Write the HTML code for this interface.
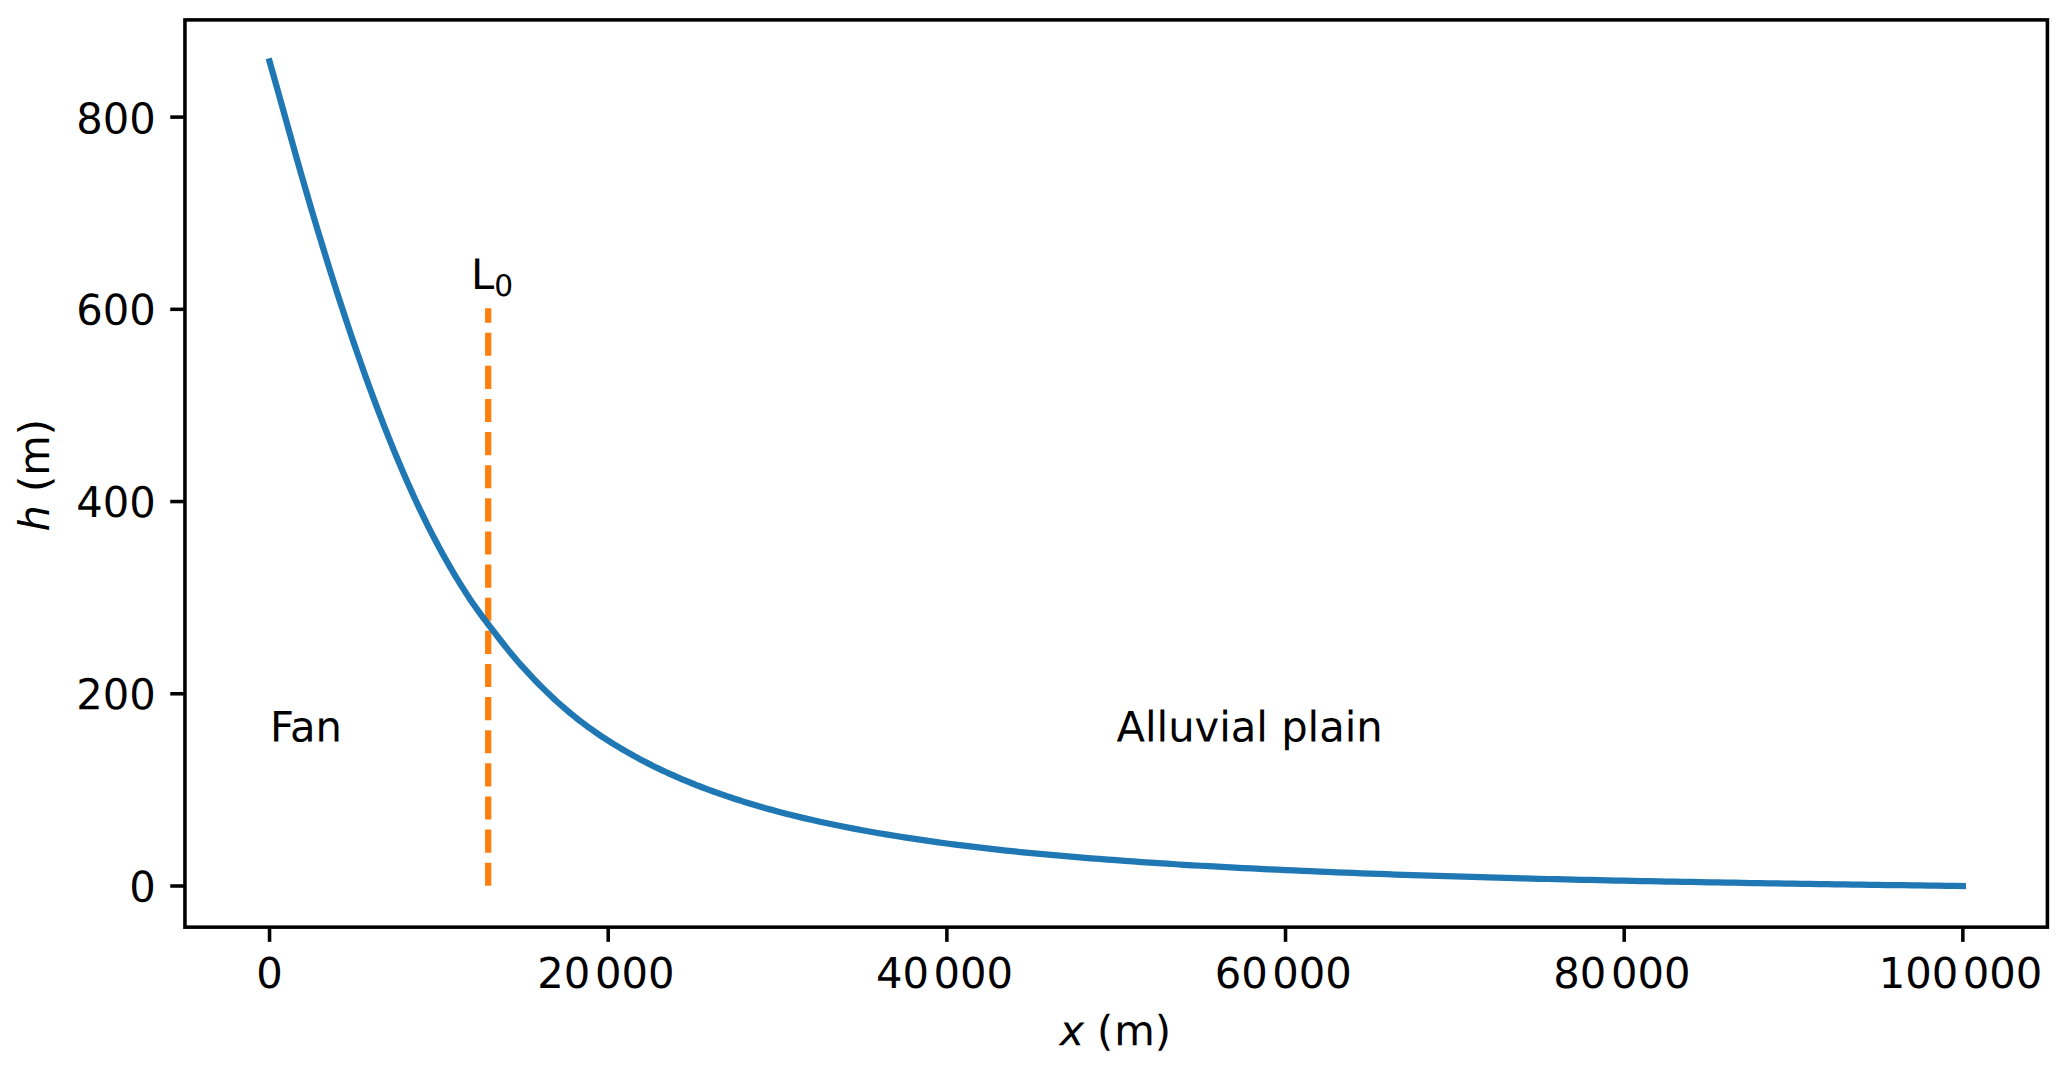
<!DOCTYPE html>
<html lang="en">
<head>
<meta charset="utf-8">
<title>Fan and alluvial plain profile</title>
<style>
html,body{margin:0;padding:0;background:#fff;}
body{width:2067px;height:1069px;overflow:hidden;}
svg{display:block;}
text{font-family:"DejaVu Sans","Liberation Sans",sans-serif;font-size:41.667px;fill:#000;}
.it{font-style:italic;}
.sub{font-size:29.6px;}
</style>
</head>
<body>
<svg width="2067" height="1069" viewBox="0 0 2067 1069">
<rect x="0" y="0" width="2067" height="1069" fill="#ffffff"/>
<line x1="488.2" y1="885.8" x2="488.2" y2="308.3" stroke="#ff7f0e" stroke-width="6.25" stroke-dasharray="23.125 10" fill="none"/>
<path d="M269.55 61.40 L272.09 70.36 L274.63 79.36 L277.17 88.43 L279.71 97.49 L282.25 106.54 L284.79 115.65 L287.33 124.80 L289.87 133.92 L292.41 142.98 L294.95 152.05 L297.49 161.09 L300.03 170.05 L302.57 178.90 L305.11 187.68 L307.65 196.39 L310.19 205.03 L312.73 213.60 L315.27 222.11 L317.81 230.55 L320.35 238.93 L322.89 247.25 L325.43 255.51 L327.97 263.71 L330.51 271.83 L333.05 279.89 L335.59 287.87 L338.13 295.77 L340.67 303.59 L343.21 311.34 L345.75 319.02 L348.29 326.63 L350.83 334.17 L353.37 341.63 L355.91 349.02 L358.45 356.34 L360.99 363.58 L363.53 370.75 L366.07 377.84 L368.61 384.85 L371.15 391.79 L373.69 398.64 L376.23 405.42 L378.77 412.11 L381.31 418.73 L383.85 425.26 L386.39 431.72 L388.93 438.09 L391.47 444.38 L394.01 450.60 L396.55 456.73 L399.09 462.78 L401.63 468.76 L404.17 474.65 L406.71 480.47 L409.25 486.20 L411.79 491.86 L414.33 497.44 L416.87 502.94 L419.41 508.36 L421.95 513.70 L424.49 518.94 L427.03 524.09 L429.57 529.15 L432.11 534.12 L434.65 539.01 L437.19 543.82 L439.73 548.54 L442.27 553.19 L444.81 557.76 L447.35 562.26 L449.89 566.68 L452.43 571.03 L454.97 575.30 L457.51 579.50 L460.05 583.63 L462.59 587.70 L465.13 591.69 L467.67 595.60 L470.21 599.43 L472.75 603.17 L475.29 606.83 L477.83 610.39 L480.37 613.87 L482.91 617.28 L485.45 620.65 L487.99 623.98 L490.53 627.30 L493.07 630.62 L495.61 633.94 L498.15 637.25 L500.69 640.53 L503.23 643.78 L505.77 646.98 L508.31 650.13 L510.85 653.22 L513.39 656.26 L515.93 659.25 L518.47 662.18 L521.01 665.06 L523.55 667.90 L526.08 670.70 L528.62 673.45 L531.16 676.16 L533.70 678.84 L536.24 681.48 L538.78 684.07 L541.32 686.63 L543.86 689.15 L546.40 691.63 L548.94 694.08 L551.48 696.48 L554.02 698.85 L556.56 701.18 L559.10 703.47 L561.64 705.73 L564.18 707.94 L566.72 710.12 L569.26 712.26 L571.80 714.36 L574.34 716.42 L576.88 718.45 L579.42 720.43 L581.96 722.38 L584.50 724.29 L587.04 726.17 L589.58 728.02 L592.12 729.83 L594.66 731.62 L597.20 733.37 L599.74 735.09 L602.28 736.79 L604.82 738.46 L607.36 740.10 L609.90 741.72 L612.44 743.31 L614.98 744.88 L617.52 746.42 L620.06 747.94 L622.60 749.44 L625.14 750.92 L627.68 752.38 L630.22 753.82 L632.76 755.23 L635.30 756.63 L637.84 758.02 L640.38 759.38 L642.92 760.73 L645.46 762.06 L648.00 763.37 L650.54 764.66 L653.08 765.93 L655.62 767.18 L658.16 768.42 L660.70 769.63 L663.24 770.84 L665.78 772.02 L668.32 773.19 L670.86 774.34 L673.40 775.47 L675.94 776.59 L678.48 777.70 L681.02 778.79 L683.56 779.86 L686.10 780.92 L688.64 781.97 L691.18 783.00 L693.72 784.02 L696.26 785.03 L698.80 786.02 L701.34 787.00 L703.88 787.97 L706.42 788.92 L708.96 789.86 L711.50 790.79 L714.04 791.71 L716.58 792.62 L719.12 793.51 L721.66 794.40 L724.20 795.27 L726.74 796.13 L729.28 796.99 L731.82 797.83 L734.36 798.67 L736.90 799.49 L739.44 800.30 L741.98 801.11 L744.52 801.91 L747.06 802.69 L749.60 803.47 L752.14 804.24 L754.68 805.00 L757.22 805.75 L759.76 806.49 L762.30 807.23 L764.84 807.95 L767.38 808.67 L769.92 809.37 L772.46 810.07 L775.00 810.77 L777.54 811.45 L786.01 813.67 L794.47 815.80 L802.94 817.84 L811.41 819.81 L819.87 821.71 L828.34 823.54 L836.81 825.30 L845.27 827.00 L853.74 828.64 L862.20 830.23 L870.67 831.76 L879.14 833.23 L887.60 834.66 L896.07 836.04 L904.54 837.38 L913.00 838.68 L921.47 839.93 L929.94 841.15 L938.40 842.33 L946.87 843.48 L955.34 844.59 L963.80 845.66 L972.27 846.70 L980.74 847.71 L989.20 848.68 L997.67 849.63 L1006.14 850.53 L1014.60 851.42 L1023.07 852.27 L1031.54 853.10 L1040.00 853.91 L1048.47 854.69 L1056.93 855.46 L1065.40 856.20 L1073.87 856.92 L1082.33 857.62 L1090.80 858.30 L1099.27 858.97 L1107.73 859.61 L1116.20 860.24 L1124.67 860.86 L1133.13 861.46 L1141.60 862.05 L1150.07 862.62 L1158.53 863.18 L1167.00 863.72 L1175.47 864.25 L1183.93 864.76 L1192.40 865.26 L1200.87 865.75 L1209.33 866.23 L1217.80 866.70 L1226.26 867.15 L1234.73 867.59 L1243.20 868.03 L1251.66 868.45 L1260.13 868.87 L1268.60 869.28 L1277.06 869.67 L1285.53 870.07 L1294.00 870.45 L1302.46 870.83 L1310.93 871.20 L1319.40 871.56 L1327.86 871.92 L1336.33 872.27 L1344.80 872.61 L1353.26 872.94 L1361.73 873.27 L1370.19 873.59 L1378.66 873.90 L1387.13 874.21 L1395.59 874.51 L1404.06 874.81 L1412.53 875.10 L1420.99 875.38 L1429.46 875.66 L1437.93 875.93 L1446.39 876.20 L1454.86 876.46 L1463.33 876.72 L1471.79 876.97 L1480.26 877.21 L1488.73 877.45 L1497.19 877.69 L1505.66 877.92 L1514.13 878.15 L1522.59 878.37 L1531.06 878.58 L1539.52 878.79 L1547.99 879.00 L1556.46 879.20 L1564.92 879.40 L1573.39 879.59 L1581.86 879.78 L1590.32 879.97 L1598.79 880.15 L1607.26 880.33 L1615.72 880.51 L1624.19 880.68 L1632.66 880.85 L1641.12 881.02 L1649.59 881.19 L1658.06 881.35 L1666.52 881.51 L1674.99 881.67 L1683.46 881.83 L1691.92 881.98 L1700.39 882.13 L1708.86 882.29 L1717.32 882.43 L1725.79 882.58 L1734.25 882.73 L1742.72 882.87 L1751.19 883.01 L1759.65 883.15 L1768.12 883.29 L1776.59 883.43 L1785.05 883.56 L1793.52 883.69 L1801.99 883.82 L1810.45 883.95 L1818.92 884.07 L1827.39 884.20 L1835.85 884.32 L1844.32 884.44 L1852.79 884.56 L1861.25 884.67 L1869.72 884.79 L1878.18 884.90 L1886.65 885.02 L1895.12 885.13 L1903.58 885.24 L1912.05 885.35 L1920.52 885.47 L1928.98 885.57 L1937.45 885.68 L1945.92 885.79 L1954.38 885.90 L1962.85 886.00" fill="none" stroke="#1f77b4" stroke-width="6.25" stroke-linecap="square" stroke-linejoin="round"/>
<g stroke="#000" stroke-width="3.55" fill="none">
<line x1="269.55" y1="927.15" x2="269.55" y2="941.85"/>
<line x1="608.21" y1="927.15" x2="608.21" y2="941.85"/>
<line x1="946.87" y1="927.15" x2="946.87" y2="941.85"/>
<line x1="1285.53" y1="927.15" x2="1285.53" y2="941.85"/>
<line x1="1624.19" y1="927.15" x2="1624.19" y2="941.85"/>
<line x1="1962.85" y1="927.15" x2="1962.85" y2="941.85"/>
<line x1="170.25" y1="886.00" x2="184.95" y2="886.00"/>
<line x1="170.25" y1="693.77" x2="184.95" y2="693.77"/>
<line x1="170.25" y1="501.55" x2="184.95" y2="501.55"/>
<line x1="170.25" y1="309.33" x2="184.95" y2="309.33"/>
<line x1="170.25" y1="117.10" x2="184.95" y2="117.10"/>
<rect x="184.95" y="19.9" width="1862.45" height="907.25"/>
</g>
<text transform="translate(256.30 988.00) rotate(0.03) scale(1 1.02)">0</text>
<text transform="translate(537.31 988.00) rotate(0.03) scale(1 1.02)">20<tspan dx="4.6">000</tspan></text>
<text transform="translate(875.97 988.00) rotate(0.03) scale(1 1.02)">40<tspan dx="4.6">000</tspan></text>
<text transform="translate(1214.63 988.00) rotate(0.03) scale(1 1.02)">60<tspan dx="4.6">000</tspan></text>
<text transform="translate(1553.29 988.00) rotate(0.03) scale(1 1.02)">80<tspan dx="4.6">000</tspan></text>
<text transform="translate(1878.65 988.00) rotate(0.03) scale(1 1.02)">100<tspan dx="4.6">000</tspan></text>
<text transform="translate(129.24 901.80) rotate(0.03) scale(1 1.017)">0</text>
<text transform="translate(76.22 709.25) rotate(0.03) scale(1 1.017)">200</text>
<text transform="translate(76.22 517.10) rotate(0.03) scale(1 1.017)">400</text>
<text transform="translate(76.22 324.80) rotate(0.03) scale(1 1.017)">600</text>
<text transform="translate(76.22 133.45) rotate(0.03) scale(1 1.017)">800</text>
<text transform="translate(1059.55 1045.20) rotate(0.03) scale(1 1.0)"><tspan class="it">x</tspan> <tspan dx="-0.35">(</tspan><tspan dx="0.8">m</tspan><tspan dx="0.1">)</tspan></text>
<text transform="translate(49.00 531.60) rotate(-89.97) scale(1 1.01)"><tspan class="it">h</tspan> (m)</text>
<text transform="translate(470.90 289.00) rotate(0.03) scale(1 1.008)">L<tspan class="sub" dx="0.2" dy="7.0">0</tspan></text>
<text transform="translate(269.90 741.50) rotate(0.03) scale(1 1.008)">Fan</text>
<text transform="translate(1116.50 741.40) rotate(0.03) scale(1 1.008)">Alluvial plain</text>
</svg>
</body>
</html>
